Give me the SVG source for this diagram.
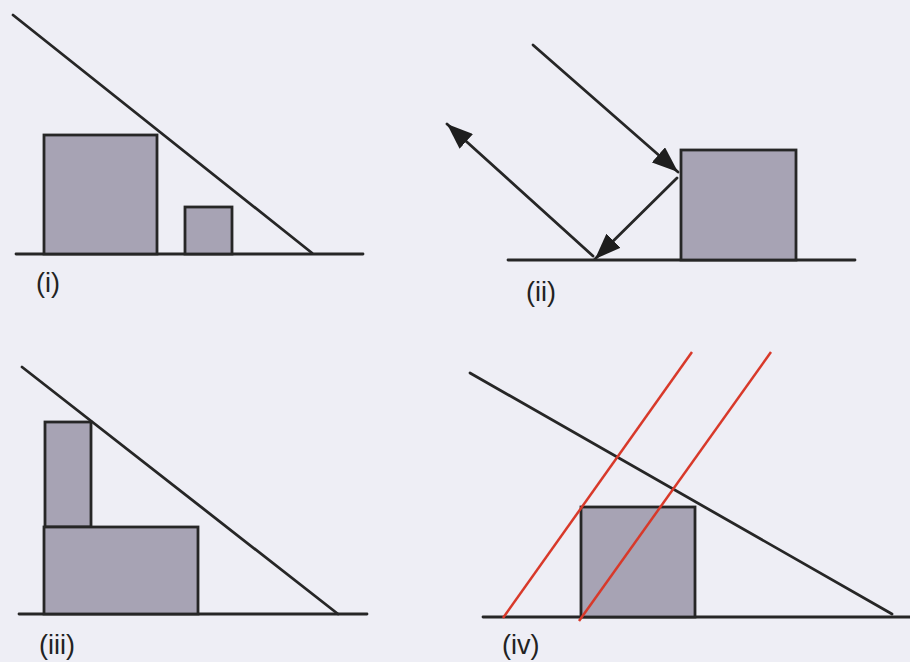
<svg xmlns="http://www.w3.org/2000/svg" width="910" height="662" viewBox="0 0 910 662">
<style>
.ln{stroke:#262626;stroke-width:2.8;fill:none;stroke-linecap:round}
.box{fill:#A7A3B4;stroke:#262626;stroke-width:2.8}
.red{stroke:#D8392A;stroke-width:2.5;fill:none}
.lbl{font-family:"Liberation Sans",Arial,sans-serif;font-size:27px;fill:#222}
</style>
<defs>
<marker id="ah" viewBox="0 0 26 20" refX="26" refY="10" markerWidth="26" markerHeight="20" markerUnits="userSpaceOnUse" orient="auto">
<path d="M0,0 L26,10 L0,20 Z" fill="#1E1E1E"/>
</marker>
</defs>
<rect width="910" height="662" fill="#EEEEF5"/>
<g id="panel-i">
<line class="ln" x1="16" y1="254" x2="363" y2="254"/>
<line class="ln" x1="13" y1="15" x2="312" y2="253"/>
<rect id="box-i-large" class="box" x="44" y="135" width="113" height="119"/>
<rect id="box-i-small" class="box" x="185" y="207" width="47" height="47"/>
<text class="lbl" x="36" y="292">(i)</text>
</g>
<g id="panel-ii">
<line class="ln" x1="508" y1="260" x2="855" y2="260"/>
<rect id="box-ii" class="box" x="681" y="150" width="115" height="110"/>
<text class="lbl" x="526" y="301">(ii)</text>
</g>
<g id="connectors">
<line class="ln" x1="533" y1="45" x2="678" y2="172" marker-end="url(#ah)"/>
<line class="ln" x1="677" y1="178" x2="595" y2="259" marker-end="url(#ah)"/>
<line class="ln" x1="593" y1="256" x2="447" y2="124" marker-end="url(#ah)"/>
</g>
<g id="panel-iii">
<line class="ln" x1="19" y1="614" x2="367" y2="614"/>
<line class="ln" x1="22" y1="367" x2="338" y2="614"/>
<rect id="box-iii-tall" class="box" x="45" y="422" width="46" height="105"/>
<rect id="box-iii-wide" class="box" x="44" y="527" width="154" height="87"/>
<text class="lbl" x="39" y="654">(iii)</text>
</g>
<g id="panel-iv">
<line class="ln" x1="483" y1="617" x2="910" y2="617"/>
<rect id="box-iv" class="box" x="581" y="507" width="114" height="110"/>
<line class="ln" x1="470" y1="373" x2="892" y2="614"/>
<line class="red" x1="503" y1="618" x2="692" y2="352"/>
<line class="red" x1="579" y1="621" x2="771" y2="352"/>
<text class="lbl" x="502" y="654">(iv)</text>
</g>
</svg>
